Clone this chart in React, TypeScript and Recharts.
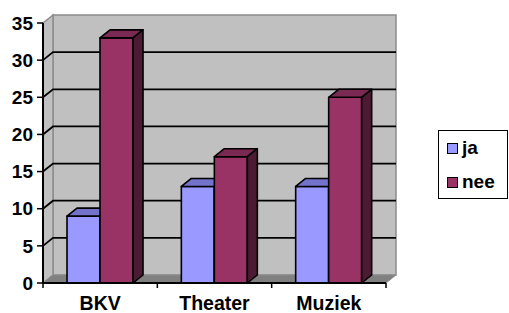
import React from "react";
import {
  Bar,
  BarChart,
  CartesianGrid,
  ReferenceArea,
  XAxis,
  YAxis,
} from "recharts";

const categories = ["BKV", "Theater", "Muziek"];
const jaValues = [9, 13, 13];
const neeValues = [33, 17, 25];
const yTicks = [0, 5, 10, 15, 20, 25, 30, 35];
const gridValues = [5, 10, 15, 20, 25, 30];

const data = categories.map((name, i) => ({
  name,
  ja: jaValues[i],
  nee: neeValues[i],
}));

const W = 509;
const H = 313;
const MARGIN = { top: 23, right: 123, left: 0, bottom: 0 };
const Y_AXIS_W = 43;
const X_AXIS_H = 30;
const DX = 10;
const DY = 8;
const FONT = "'Liberation Sans', Arial, sans-serif";
const X_TICK_SIZE = 5;
const X_TICK_MARGIN = 8;

const colors = {
  ja: { front: "#9999ff", top: "#7373cc", side: "#5c5ca3" },
  nee: { front: "#993366", top: "#7a2952", side: "#4d1a33" },
};

function makeBox(c: { front: string; top: string; side: string }) {
  return (props: any) => {
    const { x, y, width: w, height: h } = props;
    if (h == null || w == null) return null;
    const sw = 1.6;
    return (
      <g stroke="#000" strokeWidth={sw} strokeLinejoin="round">
        <rect x={x} y={y} width={w} height={h} fill={c.front} />
        <polygon
          points={`${x},${y} ${x + DX},${y - DY} ${x + w + DX},${y - DY} ${x + w},${y}`}
          fill={c.top}
        />
        <polygon
          points={`${x + w},${y} ${x + w + DX},${y - DY} ${x + w + DX},${y + h - DY} ${x + w},${y + h}`}
          fill={c.side}
        />
      </g>
    );
  };
}

function Walls(props: any) {
  const { x, y, width: w, height: h } = props;
  return (
    <g>
      {/* back wall */}
      <rect
        x={x + DX}
        y={y - DY}
        width={w}
        height={h}
        fill="#c0c0c0"
        stroke="#8c8c8c"
        strokeWidth={1.5}
      />
      {/* left wall */}
      <polygon
        points={`${x},${y} ${x + DX},${y - DY} ${x + DX},${y + h - DY} ${x},${y + h}`}
        fill="#c0c0c0"
        stroke="#8c8c8c"
        strokeWidth={1.5}
      />
      {/* floor */}
      <polygon
        points={`${x},${y + h} ${x + DX},${y + h - DY} ${x + w + DX},${y + h - DY} ${x + w},${y + h}`}
        fill="#808080"
        stroke="#8c8c8c"
        strokeWidth={1}
      />
    </g>
  );
}

function GridLine(props: any) {
  const { x1, y1, x2 } = props;
  return (
    <polyline
      key={props.key}
      points={`${x1},${y1} ${x1 + DX},${y1 - DY} ${x2 + DX},${y1 - DY}`}
      fill="none"
      stroke="#000"
      strokeWidth={1.8}
    />
  );
}

function XTick(props: any) {
  const { x, y, payload, index } = props;
  const plotW = W - MARGIN.right - Y_AXIS_W;
  const half =
    payload && payload.offset ? payload.offset : plotW / categories.length / 2;
  const axisY = y - X_TICK_SIZE - X_TICK_MARGIN;
  return (
    <g>
      <line
        x1={x - half}
        x2={x - half}
        y1={axisY}
        y2={axisY + X_TICK_SIZE}
        stroke="#000"
        strokeWidth={1.5}
      />
      {index === categories.length - 1 && (
        <line
          x1={x + half}
          x2={x + half}
          y1={axisY}
          y2={axisY + X_TICK_SIZE}
          stroke="#000"
          strokeWidth={1.5}
        />
      )}
      <text
        x={x}
        y={y}
        dy="0.71em"
        textAnchor="middle"
        fontFamily={FONT}
        fontWeight="bold"
        fontSize={19.5}
        fill="#000"
      >
        {payload.value}
      </text>
    </g>
  );
}

function LegendBox() {
  const items = [
    { label: "ja", color: colors.ja.front },
    { label: "nee", color: colors.nee.front },
  ];
  return (
    <div
      style={{
        position: "absolute",
        left: 438,
        top: 130,
        width: 70,
        height: 69,
        boxSizing: "border-box",
        border: "1.5px solid #000",
        background: "#fff",
        paddingTop: 0,
        paddingLeft: 8,
        fontFamily: FONT,
        fontWeight: "bold",
        fontSize: 19,
        lineHeight: "22px",
        color: "#000",
      }}
    >
      {items.map((it) => (
        <div
          key={it.label}
          style={{ display: "flex", alignItems: "center", height: 34 }}
        >
          <span
            style={{
              display: "inline-block",
              width: 11,
              height: 11,
              boxSizing: "border-box",
              border: "1.5px solid #000",
              background: it.color,
              marginRight: 4,
            }}
          />
          <span>{it.label}</span>
        </div>
      ))}
    </div>
  );
}

export default function App() {
  return (
    <div style={{ position: "relative", width: W, height: H, background: "#fff" }}>
      <style>{"body{margin:0}"}</style>
      <BarChart
        width={W}
        height={H}
        data={data}
        margin={MARGIN}
        barCategoryGap="21%"
        barGap={0}
      >
        <ReferenceArea
          y1={0}
          y2={35}
          shape={(p: any) => <Walls {...p} />}
          ifOverflow="visible"
          zIndex={-200}
        />
        <CartesianGrid
          vertical={false}
          horizontalValues={gridValues}
          horizontal={(p: any) => <GridLine {...p} />}
          fill="none"
        />
        <XAxis
          dataKey="name"
          height={X_AXIS_H}
          axisLine={{ stroke: "#000", strokeWidth: 2 }}
          tickLine={false}
          tickSize={X_TICK_SIZE}
          tickMargin={X_TICK_MARGIN}
          tick={(p: any) => <XTick {...p} />}
          interval={0}
        />
        <YAxis
          width={Y_AXIS_W}
          domain={[0, 35]}
          ticks={yTicks}
          interval={0}
          axisLine={{ stroke: "#000", strokeWidth: 2 }}
          tickLine={{ stroke: "#000", strokeWidth: 1.5 }}
          tickSize={6}
          tickMargin={4}
          tick={{
            fill: "#000",
            fontSize: 19,
            fontWeight: "bold",
            fontFamily: FONT,
          }}
        />
        <Bar
          dataKey="ja"
          isAnimationActive={false}
          fill={colors.ja.front}
          shape={makeBox(colors.ja)}
        />
        <Bar
          dataKey="nee"
          isAnimationActive={false}
          fill={colors.nee.front}
          shape={makeBox(colors.nee)}
        />
      </BarChart>
      <LegendBox />
    </div>
  );
}
